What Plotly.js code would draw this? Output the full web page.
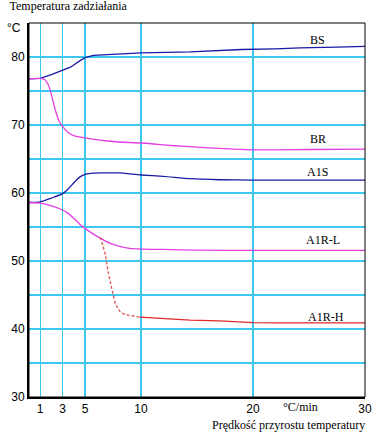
<!DOCTYPE html>
<html>
<head>
<meta charset="utf-8">
<script src="https://cdn.plot.ly/plotly-3.0.1.min.js"></script>
<style>html,body{margin:0;padding:0;background:#fff;}#chart{width:380px;height:437px;}</style>
</head>
<body>
<div id="chart"></div>
<script>
// Data
const bsX = [0, 1, 2, 3, 3.7, 4.6, 5, 5.75, 7.25, 10, 14.4, 16, 19, 22, 24.2, 27.5, 30];
const bsY = [76.8, 76.85, 77.4, 78.0, 78.5, 79.5, 79.9, 80.25, 80.4, 80.6, 80.75, 80.9, 81.1, 81.2, 81.35, 81.45, 81.55];

const brX = [0, 1, 1.4, 1.7, 1.9, 2.1, 2.35, 2.65, 3.0, 3.5, 4, 5, 6, 7, 8, 10, 11.5, 13, 15, 17, 20, 25, 30];
const brY = [76.8, 76.85, 76.7, 76.0, 75.1, 73.8, 72.2, 70.7, 69.8, 68.9, 68.45, 68.1, 67.85, 67.65, 67.5, 67.35, 67.15, 66.95, 66.75, 66.55, 66.35, 66.4, 66.45];

const a1sX = [0, 1, 2, 3, 3.5, 4, 4.5, 5, 5.5, 6.5, 8, 10, 12, 14.4, 17, 20, 30];
const a1sY = [58.6, 58.7, 59.25, 59.9, 60.6, 61.5, 62.3, 62.75, 62.9, 62.95, 62.95, 62.65, 62.45, 62.1, 61.95, 61.9, 61.9];

const a1rlX = [0, 1, 2, 3, 3.5, 4, 4.6, 5, 5.9, 7.3, 8, 9, 10, 12, 15, 20, 30];
const a1rlY = [58.6, 58.5, 58.1, 57.5, 57.0, 56.3, 55.3, 54.8, 53.8, 52.55, 52.2, 51.85, 51.75, 51.7, 51.6, 51.55, 51.55];

const a1rhDashX = [6.37, 6.8, 7.1, 7.4, 7.7, 8.15, 8.6, 9.9];
const a1rhDashY = [53.5, 51.1, 48.1, 45.7, 43.7, 42.5, 42.1, 41.75];
const a1rhX = [9.9, 11.7, 14.4, 17, 20, 22, 30];
const a1rhY = [41.75, 41.6, 41.3, 41.2, 40.95, 40.9, 40.9];

const seriesNames = ['BS', 'BR', 'A1S', 'A1R-L', 'A1R-H'];
const labelX = [25.8, 25.8, 25.8, 26.25, 26.55];
const labelY = [82.55, 67.9, 63.1, 53.15, 41.8];

const xTicks = [1, 3, 5, 10, 20, 30];
const yTicks = [30, 35, 40, 45, 50, 55, 60, 65, 70, 75, 80];
const yTickText = ['30', '', '40', '', '50', '', '60', '', '70', '', '80'];

const titleText = 'Temperatura zadziałania';
const xTitleText = 'Prędkość przyrostu temperatury';
const xUnitText = '°C/min';
const yUnitText = '°C';

const navy = '#1a1aa6';
const magenta = '#e23fe2';
const red = '#e02a2a';
const grid = '#3cc8ee';
const serif = 'Liberation Serif, Times New Roman, serif';
const sans = 'Liberation Sans, Arial, sans-serif';

const traces = [
  {x: bsX, y: bsY, mode: 'lines', line: {color: navy, width: 1.3}},
  {x: brX, y: brY, mode: 'lines', line: {color: magenta, width: 1.3, shape: 'spline', smoothing: 0.6}},
  {x: a1sX, y: a1sY, mode: 'lines', line: {color: navy, width: 1.3, shape: 'spline', smoothing: 0.6}},
  {x: a1rlX, y: a1rlY, mode: 'lines', line: {color: magenta, width: 1.3, shape: 'spline', smoothing: 0.6}},
  {x: a1rhDashX, y: a1rhDashY, mode: 'lines', line: {color: '#e05050', width: 1.3, dash: '3px,2px'}},
  {x: a1rhX, y: a1rhY, mode: 'lines', line: {color: red, width: 1.3}}
];

const annotations = seriesNames.map((n, i) => ({
  x: labelX[i], y: labelY[i], xref: 'x', yref: 'y', text: n, showarrow: false,
  font: {family: serif, size: 12, color: '#000'}
}));
annotations.push({x: 24.2, y: 0, xref: 'x', yref: 'paper', yanchor: 'top', yshift: -1,
  text: xUnitText, showarrow: false, font: {family: serif, size: 12, color: '#000'}});
annotations.push({x: 1, y: 0, xref: 'paper', yref: 'paper', xanchor: 'right', yanchor: 'top', yshift: -19, xshift: 2,
  text: xTitleText, showarrow: false, font: {family: serif, size: 12, color: '#000'}});
annotations.push({x: 0, y: 84.2, xref: 'paper', yref: 'y', xanchor: 'right', yanchor: 'middle', xshift: -6,
  text: yUnitText, showarrow: false, font: {family: sans, size: 12, color: '#000'}});

const layout = {
  width: 380, height: 437,
  margin: {l: 29, r: 15, t: 23, b: 40},
  paper_bgcolor: '#fff', plot_bgcolor: '#fff',
  showlegend: false,
  title: {text: titleText, x: 0.025, xanchor: 'left', y: 0.997, yanchor: 'top',
    font: {family: serif, size: 12, color: '#000'}},
  xaxis: {range: [0, 30], tickmode: 'array', tickvals: xTicks, ticktext: ['1', '3', '5', '10', '20', '30'],
    showgrid: true, gridcolor: grid, gridwidth: 1.3, zeroline: false,
    showline: true, linecolor: '#000', linewidth: 2, ticks: '', ticklabelstandoff: 0,
    tickfont: {family: sans, size: 12, color: '#000'}},
  yaxis: {range: [30, 85], tickmode: 'array', tickvals: yTicks, ticktext: yTickText,
    showgrid: true, gridcolor: grid, gridwidth: 1.3, zeroline: false,
    showline: true, linecolor: '#000', linewidth: 2, ticks: '',
    tickfont: {family: sans, size: 12, color: '#000'}},
  shapes: [{type: 'rect', xref: 'paper', yref: 'paper', x0: 0, x1: 1, y0: 0, y1: 1,
    line: {color: '#000', width: 1}, layer: 'above'}],
  annotations: annotations
};

Plotly.newPlot('chart', traces, layout, {displayModeBar: false, staticPlot: true});
</script>
</body>
</html>
